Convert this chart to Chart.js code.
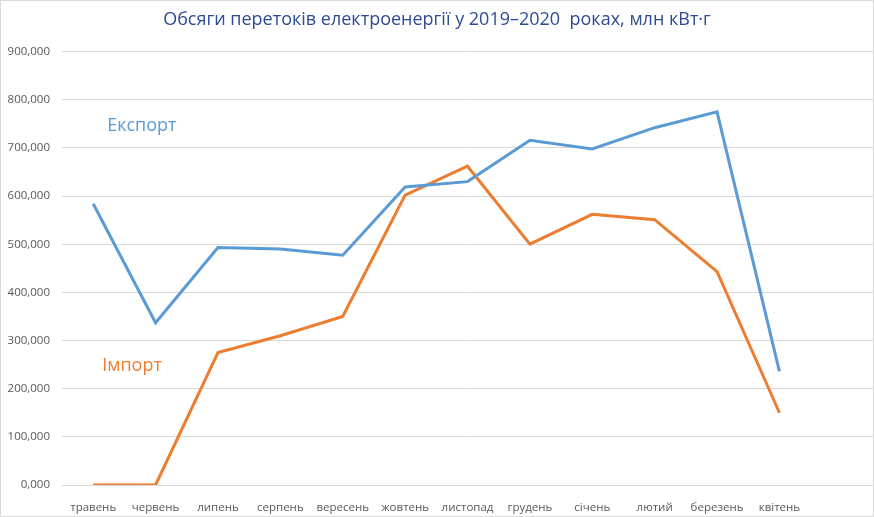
<!DOCTYPE html>
<html>
<head>
<meta charset="utf-8">
<script src="https://cdn.jsdelivr.net/npm/chart.js@4"></script>
<style>
html,body{margin:0;padding:0;background:#fff;}
#wrap{position:relative;width:874px;height:517px;box-sizing:border-box;border:1px solid #d9d9d9;}
canvas{display:block;}
</style>
</head>
<body>
<div id="wrap"><canvas id="chart" width="872" height="515"></canvas></div>
<script>
// Обсяги перетоків електроенергії, млн кВт·г
const months=['травень','червень','липень','серпень','вересень','жовтень','листопад','грудень','січень','лютий','березень','квітень',''];
const exportVals=[584,337,493,490,477,619,630,716,698,742,775,236];
const importVals=[0,0,275,310,350,602,662,500,562,551,443,150];
const yTicks=[0,100,200,300,400,500,600,700,800,900];

const BLUE='#5B9BD5',ORANGE='#ED7D31';

// підписи серій прямо на графіку
const seriesLabels={
  id:'seriesLabels',
  afterDatasetsDraw(chart){
    const c=chart.ctx,x=chart.scales.x,y=chart.scales.y;
    c.save();
    c.font='18px "Open Sans"';
    c.textBaseline='middle';
    c.textAlign='left';
    c.fillStyle=BLUE;
    c.fillText('Експорт',x.getPixelForValue(0)+14,y.getPixelForValue(745));
    c.fillStyle=ORANGE;
    c.fillText('Імпорт',x.getPixelForValue(0)+9,y.getPixelForValue(247));
    c.restore();
  }
};

new Chart(document.getElementById('chart'),{
  type:'line',
  data:{
    labels:months,
    datasets:[
      {label:'Експорт',data:exportVals,borderColor:BLUE,borderWidth:3,pointRadius:0,tension:0,fill:false},
      {label:'Імпорт',data:importVals,borderColor:ORANGE,borderWidth:3,pointRadius:0,tension:0,fill:false}
    ]
  },
  options:{
    responsive:false,
    animation:false,
    layout:{padding:{left:0,right:0,top:0,bottom:0}},
    plugins:{
      legend:{display:false},
      tooltip:{enabled:false},
      title:{
        display:true,
        text:'Обсяги перетоків електроенергії у 2019–2020  роках, млн кВт·г',
        color:'#2E4B94',
        font:{family:'"Open Sans"',size:18,weight:'normal'},
        padding:{top:8,bottom:21}
      }
    },
    scales:{
      x:{
        offset:true,
        grid:{display:false},
        border:{color:'#d9d9d9'},
        ticks:{color:'#595959',font:{family:'"Open Sans"',size:11.5},padding:8,maxRotation:0,autoSkip:false},
        afterFit(s){s.height=31;}
      },
      y:{
        min:0,max:900,
        afterBuildTicks(s){s.ticks=yTicks.map(v=>({value:v}));},
        grid:{color:'#d9d9d9',drawTicks:false},
        border:{display:false},
        ticks:{color:'#595959',font:{family:'"Open Sans"',size:11.5},padding:12,
          callback:v=>v.toFixed(3).replace('.',',')},
        afterFit(s){s.width=61;}
      }
    }
  },
  plugins:[seriesLabels]
});
</script>
</body>
</html>
